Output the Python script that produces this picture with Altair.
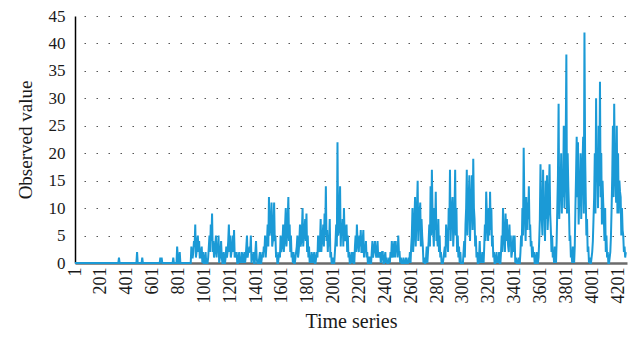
import altair as alt
import pandas as pd

# Observed values read every 10 time steps (t = 1, 11, 21, ...)
seg1 = [
    0, 0, 0, 0, 0, 0, 0, 0, 0, 0,
    0, 0, 0, 0, 0, 0, 0, 0, 0, 0,
    0, 0, 0, 0, 0, 0, 0, 0, 0, 0,
    0, 0, 0, 0, 1, 0, 0, 0, 0, 0,
    0, 0, 0, 0, 0, 0, 0, 0, 2, 0,
    0, 0, 1, 0, 0, 0, 0, 0, 0, 0,
    0, 0, 0, 0, 0, 0, 1, 1, 0, 0,
    0, 0, 0, 0, 0, 0, 1, 0, 0, 3,
    0, 2, 0, 0, 0, 0, 0, 0, 0, 0,
    3, 1, 4, 7, 2, 5, 4, 1, 3, 2,
]
seg2 = [
    0, 2, 0, 1, 5, 7, 9, 4, 2, 5,
    3, 5, 1, 4, 0, 2, 0, 3, 2, 7,
    5, 2, 5, 6, 2, 2, 0, 2, 1, 2,
    0, 2, 1, 5, 2, 3, 5, 1, 2, 0,
    4, 0, 0, 2, 0, 2, 3, 5, 3, 7,
    12, 6, 11, 4, 11, 5, 2, 0, 2, 5,
    3, 7, 4, 10, 5, 12, 7, 5, 2, 2,
    0, 2, 5, 2, 7, 4, 10, 5, 8, 9,
    5, 3, 1, 2, 0, 2, 0, 2, 5, 2,
    8, 4, 7, 9, 14, 6, 5, 8, 2, 0,
]
seg3 = [
    0, 2, 7, 22, 6, 14, 7, 8, 10, 4,
    7, 5, 2, 0, 2, 2, 0, 5, 7, 3,
    5, 6, 2, 6, 3, 4, 2, 0, 1, 0,
    4, 2, 4, 1, 4, 2, 2, 1, 2, 0,
    2, 1, 0, 1, 2, 4, 1, 4, 4, 3,
    5, 2, 1, 0, 1, 0, 1, 0, 1, 2,
    3, 10, 5, 12, 7, 15, 8, 11, 8, 3,
    1, 0, 3, 2, 7, 14, 17, 6, 10, 13,
    5, 8, 5, 2, 0, 1, 3, 7, 4, 10,
    17, 8, 12, 6, 17, 10, 5, 3, 2, 0,
]
seg4 = [
    0, 4, 7, 17, 10, 16, 9, 16, 19, 8,
    5, 2, 0, 4, 1, 2, 0, 7, 13, 6,
    10, 13, 10, 5, 2, 0, 2, 1, 2, 0,
    5, 10, 4, 9, 8, 3, 7, 5, 2, 5,
    5, 1, 0, 1, 0, 5, 10, 21, 8, 12,
    11, 14, 7, 4, 3, 2, 0, 2, 0, 4,
    18, 8, 17, 10, 15, 16, 9, 18, 6, 5,
    2, 3, 0, 10, 29, 13, 20, 16, 25, 14,
    38, 20, 10, 5, 2, 3, 0, 10, 23, 22,
    12, 20, 15, 23, 42, 12, 8, 3, 1, 0,
    2, 8, 20, 30, 18, 25, 33, 20, 15, 8,
    10, 5, 2, 0, 2, 10, 25, 29, 15, 25,
    20, 15, 12, 10, 5, 3, 2,
]

# Values read in between (t = 6, 16, 26, ...): the dips between spikes
mid1 = [
    0, 0, 0, 0, 0, 0, 0, 0, 0, 0,
    0, 0, 0, 0, 0, 0, 0, 0, 0, 0,
    0, 0, 0, 0, 0, 0, 0, 0, 0, 0,
    0, 0, 0, 0, 0, 0, 0, 0, 0, 0,
    0, 0, 0, 0, 0, 0, 0, 0, 0, 0,
    0, 0, 0, 0, 0, 0, 0, 0, 0, 0,
    0, 0, 0, 0, 0, 0, 0, 0, 0, 0,
    0, 0, 0, 0, 0, 0, 0, 0, 0, 1,
    0, 0, 0, 0, 0, 0, 0, 0, 0, 0,
    1, 2, 3, 1, 4, 2, 1, 2, 0, 0,
]
mid2 = [
    1, 0, 0, 3, 2, 4, 2, 1, 3, 1,
    2, 0, 2, 1, 0, 0, 1, 1, 4, 2,
    1, 3, 2, 1, 1, 0, 1, 0, 0, 1,
    1, 0, 3, 1, 2, 2, 0, 1, 0, 2,
    1, 0, 1, 0, 1, 1, 2, 1, 4, 3,
    5, 8, 3, 7, 4, 1, 0, 1, 1, 2,
    4, 2, 7, 3, 8, 4, 2, 1, 0, 0,
    1, 3, 1, 4, 3, 6, 3, 6, 4, 2,
    1, 0, 0, 1, 1, 0, 1, 1, 3, 4,
    2, 5, 3, 5, 4, 2, 3, 1, 0, 1,
]
mid3 = [
    0, 4, 3, 5, 9, 3, 5, 3, 5, 6,
    2, 1, 0, 1, 0, 0, 3, 2, 4, 2,
    3, 2, 4, 1, 2, 1, 0, 1, 0, 2,
    1, 3, 2, 2, 1, 1, 0, 2, 0, 1,
    0, 0, 0, 0, 1, 2, 3, 1, 2, 1,
    2, 0, 0, 0, 0, 0, 0, 0, 0, 0,
    5, 2, 8, 3, 10, 4, 9, 3, 5, 0,
    0, 1, 0, 4, 3, 5, 9, 3, 6, 4,
    3, 2, 1, 0, 0, 2, 1, 5, 2, 6,
    4, 10, 3, 9, 5, 2, 1, 0, 0, 0,
]
mid4 = [
    2, 1, 10, 5, 12, 4, 12, 6, 10, 3,
    1, 0, 1, 0, 0, 1, 3, 4, 9, 4,
    5, 6, 3, 1, 0, 1, 0, 0, 0, 2,
    2, 6, 2, 4, 5, 2, 3, 1, 3, 2,
    0, 0, 0, 0, 2, 3, 5, 11, 4, 6,
    8, 6, 3, 1, 1, 0, 1, 0, 1, 8,
    10, 5, 9, 4, 8, 6, 13, 9, 2, 1,
    0, 1, 4, 16, 8, 12, 9, 12, 10, 22,
    9, 14, 4, 1, 0, 1, 3, 16, 12, 7,
    14, 8, 18, 9, 20, 5, 2, 0, 0, 1,
    4, 12, 9, 15, 10, 14, 12, 7, 11, 4,
    2, 1, 0, 1, 5, 16, 12, 18, 11, 9,
    9, 13, 5, 6, 2, 1,
]

x_tick_values = [1, 201, 401, 601, 801, 1001, 1201, 1401, 1601, 1801, 2001,
                 2201, 2401, 2601, 2801, 3001, 3201, 3401, 3601, 3801, 4001, 4201]
y_tick_values = [0, 5, 10, 15, 20, 25, 30, 35, 40, 45]

main_vals = seg1 + seg2 + seg3 + seg4
mid_vals = mid1 + mid2 + mid3 + mid4
ts, vs = [], []
for i, v in enumerate(main_vals):
    ts.append(1 + 10 * i)
    vs.append(v)
    if i < len(mid_vals):
        ts.append(6 + 10 * i)
        vs.append(mid_vals[i])
df = pd.DataFrame({"t": ts, "v": vs})

FONT = "Liberation Serif"

chart = alt.Chart(df).mark_line(color="#1B9AD6", strokeWidth=2.0, interpolate="linear").encode(
    x=alt.X("t:Q",
            scale=alt.Scale(domain=[1, 4270], nice=False, zero=False),
            axis=alt.Axis(values=x_tick_values, format="d", title="Time series",
                          labelAngle=-90, ticks=False, grid=False, labelPadding=4,
                          labelFontSize=18, labelFont=FONT, titleFont=FONT,
                          titleFontSize=20, titleFontWeight="normal", titlePadding=8,
                          labelColor="#1a1a1a", titleColor="#1a1a1a",
                          domainColor="#6b6b6b", domainWidth=2.5, labelOverlap=False)),
    y=alt.Y("v:Q",
            scale=alt.Scale(domain=[0, 45], nice=False),
            axis=alt.Axis(values=y_tick_values, title="Observed value", ticks=False,
                          labelPadding=10, labelFontSize=17, labelFont=FONT,
                          titleFont=FONT, titleFontSize=19, titleFontWeight="normal",
                          titlePadding=13, labelColor="#1a1a1a", titleColor="#1a1a1a",
                          domainColor="#000000", domainWidth=1.5,
                          grid=True, gridColor="#555555", gridDash=[1.5, 10.5],
                          gridDashOffset=3, gridWidth=1.2)),
).properties(
    width=552, height=247,
    autosize=alt.AutoSizeParams(type="none"),
    padding={"left": 67, "top": 8, "right": 5, "bottom": 77},
).configure_view(stroke=None)

chart.save("out.html", embed_options={"renderer": "svg", "actions": False})
